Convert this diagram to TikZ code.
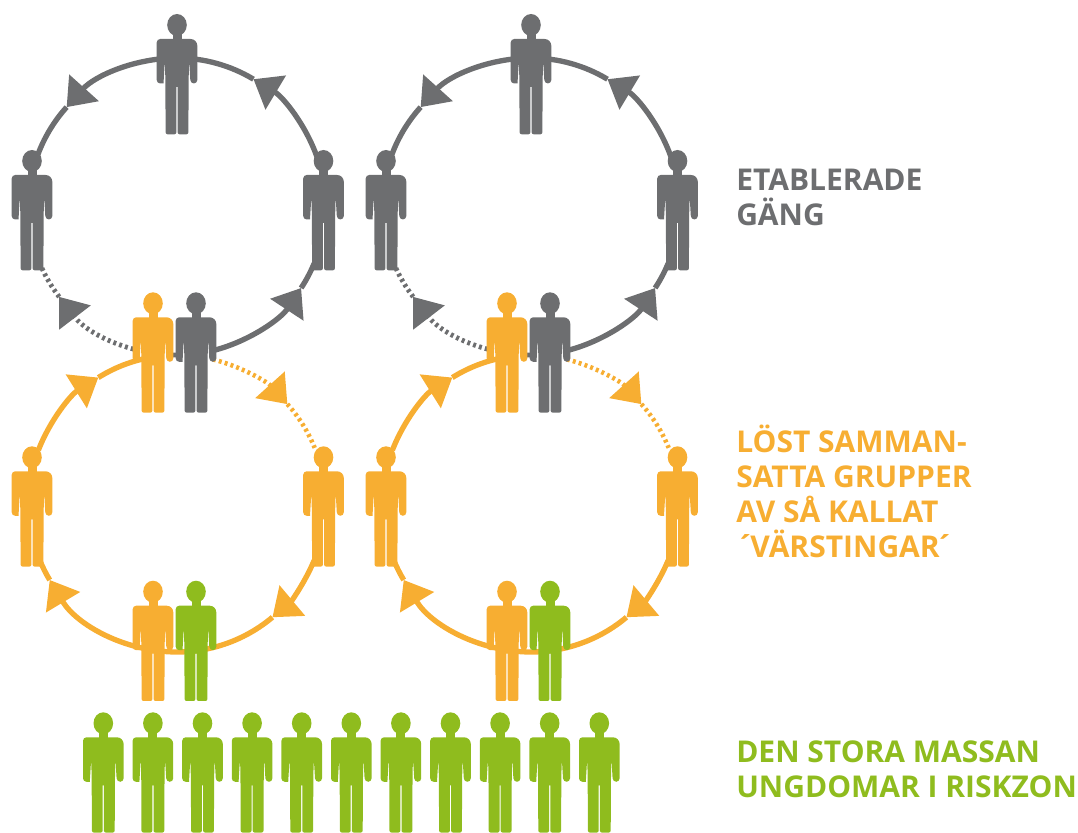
\documentclass[tikz,border=0pt]{standalone}
\usepackage{fontspec}
\setmainfont{Open Sans}
\usetikzlibrary{arrows.meta}
\definecolor{gangGrey}{HTML}{6D6E70}
\definecolor{looseOrange}{HTML}{F7AE32}
\definecolor{massGreen}{HTML}{8FBC1E}
\tikzset{
  person/.pic={
    \fill (0,0) ellipse[x radius=9.8,y radius=11];
    \fill (-4.5,-8) rectangle (4.5,-17);
    \fill[rounded corners=5pt] (-20.3,-14) -- (20.3,-14) [rounded corners=2.6pt] -- (20.3,-58.5) -- (13.5,-58.5)
      [sharp corners] -- (12.4,-40) -- (11.9,-40) -- (11.6,-60) [rounded corners=1.5pt] -- (11.4,-109.3) -- (0.6,-109.3)
      [sharp corners] -- (0.6,-62) -- (-0.6,-62) [rounded corners=1.5pt] -- (-0.6,-109.3) -- (-11.4,-109.3)
      [sharp corners] -- (-11.6,-60) -- (-11.9,-40) -- (-12.4,-40) -- (-13.5,-58.5) [rounded corners=2.6pt] -- (-20.3,-58.5) -- cycle;
  },
  greyline/.style={draw=gangGrey,fill=none,line width=4pt},
  orangeline/.style={draw=looseOrange,fill=none,line width=4pt},
  greydots/.style={greyline,line width=3.6pt,dash pattern=on 2.2pt off 2.4pt},
  orangedots/.style={orangeline,line width=3.4pt,dash pattern=on 2.2pt off 2.4pt},
  label/.style={anchor=north west,align=left,inner sep=0pt,font=\fontsize{22.5}{26.2}\selectfont\bfseries},
}
\newcommand{\ringarc}[5]{
  \draw[#1,-{Triangle[length=19.5pt,width=29pt]}] ([shift={(#3:148.5)}]#2) arc[start angle=#3,end angle=#4,radius=148.5] coordinate (#2-tip);
  \draw[#1] (#2-tip) arc[start angle=#4,end angle=#5,radius=148.5];
}
\begin{document}
\begin{tikzpicture}[x=.75pt,y=.75pt]
\useasboundingbox (0,0) rectangle (1078,832);
\foreach \col/\cx in {a/177,b/531} {
  \coordinate (grey\col) at (\cx,625.5);
  \coordinate (orange\col) at (\cx,328.5);
  \ringarc{greyline}{grey\col}{19.5}{59}{90}
  \ringarc{greyline}{grey\col}{90}{138}{160.5}
  \ringarc{greydots}{grey\col}{272}{217.5}{202.5}
  \ringarc{greyline}{grey\col}{285}{326.7}{337.5}
  \ringarc{orangeline}{orange\col}{159}{122}{97}
  \ringarc{orangedots}{orange\col}{76}{42}{22}
  \ringarc{orangeline}{orange\col}{-22.5}{-50}{-90}
  \ringarc{orangeline}{orange\col}{-90}{-149}{-157.5}
  \pic[gangGrey] at (\cx,807) {person};
  \pic[gangGrey] at (\cx-145,671) {person};
  \pic[gangGrey] at (\cx+146.5,671) {person};
  \pic[looseOrange] at (\cx-24,528.7) {person};
  \pic[gangGrey] at (\cx+19,528.7) {person};
  \pic[looseOrange] at (\cx-145,374.7) {person};
  \pic[looseOrange] at (\cx+146.5,374.7) {person};
  \pic[looseOrange] at (\cx-24,240.3) {person};
  \pic[massGreen] at (\cx+19,240.3) {person};
}
\foreach \n in {0,...,10} {
  \pic[massGreen] at (103.3+49.6*\n,108.7) {person};
}
\node[label,text=gangGrey] (gangtext) at (736,663) {ETABLERADE\\GÄNG};
\node[label,text=looseOrange] (looseText) at (736,407.5) {LÖST SAMMAN-\\SATTA GRUPPER\\AV SÅ KALLAT\\´\kern-3pt VÄRSTINGAR\kern-3pt ´};
\node[label,text=massGreen] (massText) at (736,91.5) {DEN STORA MASSAN\\UNGDOMAR I RISKZON};
\end{tikzpicture}
\end{document}
